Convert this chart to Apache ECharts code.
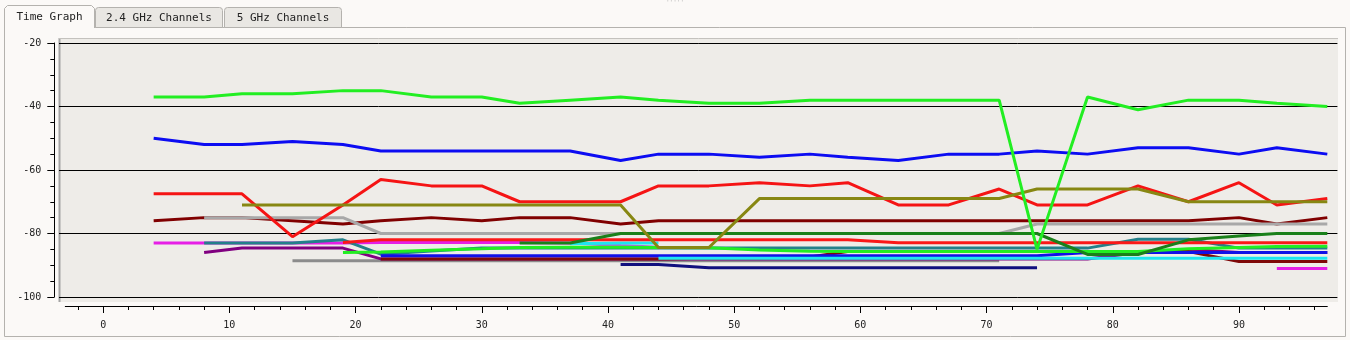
<!DOCTYPE html>
<html><head><meta charset="utf-8">
<script src="https://cdn.jsdelivr.net/npm/echarts@6/dist/echarts.min.js"></script>
<style>html,body{margin:0;padding:0;background:#fbf9f7;}#c{width:1350px;height:340px;}</style>
</head><body><div id="c"></div>
<script>
const N = null;
const times = [4, 8, 11, 15, 19, 22, 26, 30, 33, 37, 41, 44, 48, 52, 56, 59, 63, 67, 71, 74, 78, 82, 86, 90, 93, 97];
const xTickValues = [0, 10, 20, 30, 40, 50, 60, 70, 80, 90];
const xMinorValues = [-2,2,4,6,8,12,14,16,18,22,24,26,28,32,34,36,38,42,44,46,48,52,54,56,58,62,64,66,68,72,74,76,78,82,84,86,88,92,94,96];
const tabLabels = ['Time Graph', '2.4 GHz Channels', '5 GHz Channels'];

const lime = [-37,-37,-36,-36,-35,-35,-37,-37,-39,-38,-37,-38,-39,-39,-38,-38,-38,-38,-38,-85,-37,-41,-38,-38,-39,-40];
const blue = [-50,-52,-52,-51,-52,-54,-54,-54,-54,-54,-57,-55,-55,-56,-55,-56,-57,-55,-55,-54,-55,-53,-53,-55,-53,-55];
const red = [-67.5,-67.5,-67.5,-81,-71,-63,-65,-65,-70,-70,-70,-65,-65,-64,-65,-64,-71,-71,-66,-71,-71,-65,-70,-64,-71,-69];
const olive = [N,N,-71,-71,-71,-71,-71,-71,-71,-71,-71,-84.4,-84.4,-69,-69,-69,-69,-69,-69,-66,-66,-66,-70,-70,-70,-70];
const maroon = [-76,-75,-75,-76,-77,-76,-75,-76,-75,-75,-77,-76,-76,-76,-76,-76,-76,-76,-76,-76,-76,-76,-76,-75,-77,-75];
const silver = [N,-75,-75,-75,-75,-80,-80,-80,-80,-80,-80,-80,-80,-80,-80,-80,-80,-80,-80,-77,-77,-77,-77,-77,-77,-77];
const darkGreen = [N,N,N,N,N,N,N,N,-83,-83,-80,-80,-80,-80,-80,-80,-80,-80,-80,-80,-86.6,-86.6,-82,-80.8,-80,-80];
const red2 = [N,N,N,N,-82.8,-82,-82,-82,-82,-82,-82,-82,-82,-82,-82,-82,-82.9,-82.9,-82.9,-82.9,-82.9,-82.9,-82.9,-82.9,-82.9,-82.9];
const magenta = [-83,-83,-83,-83,-83,-82.8,-82.8,-82.8,-82.8,-83,N,N,N,N,N,N,N,N,N,N,N,N,N,N,-91,-91];
const teal = [N,-83,-83,-83,-82,-86.5,-85.5,-84.6,-84.6,-84.6,-84.6,-84.6,-84.6,-84.6,-84.6,-84.6,-84.6,-84.6,-84.6,-84.6,-84.6,-81.8,-81.8,-84.6,-84.6,-84.6];
const purple = [N,-86,-84.6,-84.6,-84.6,-88,-88,-88,-88,-88,-88,-88,-88,-88,-88,-88,-88,-88,-88,-88,-88,-86,-85,-86,-86,-86];
const grey = [N,N,N,-88.6,-88.6,-88.6,-88.6,-88.6,-88.6,-88.6,-88.6,-88.6,-88.6,-88.6,-88.6,-88.6,-88.6,-88.6,-88.6,N,N,N,N,N,N,N];
const lime2 = [N,N,N,N,-86,-85.8,-85.3,-84.8,-84.4,-84.3,-84.3,-84.4,-84.5,-85.2,-85.6,-85.7,-85.7,-85.7,-85.7,-85.7,-85.7,-85.7,-84.8,-84.4,-84.1,-84];
const violet = [N,N,N,N,N,N,N,N,N,-83,-83.8,-84.3,N,N,N,N,N,N,N,N,N,N,N,N,N,N];
const cyan1 = [N,N,N,N,N,N,N,N,N,-83.2,-83,-83,N,N,N,N,N,N,N,N,N,N,N,N,N,N];
const navy = [N,N,N,N,N,N,N,N,N,N,-89.8,-89.8,-90.8,-90.8,-90.8,-90.8,-90.8,-90.8,-90.8,-90.8,N,N,N,N,N,N];
const maroon2 = [N,N,N,N,N,-88,-88,-88,-88,-88,-88,-88,-87.8,-87.8,-87.4,-85.7,-85.7,-85.7,-85.7,-85.7,-85.7,-85.7,-85.7,-88.8,-88.8,-88.8];
const blue2 = [N,N,N,N,N,-87,-87,-87,-87,-87,-87,-87,-87,-87,-87,-87,-87,-87,-87,-87,-86,-86,-86,-86,-86,-86];
const cyan2 = [N,N,N,N,N,N,N,N,N,N,N,-87.8,-87.8,-87.8,-87.8,-87.8,-87.8,-87.8,-87.8,-87.8,-87.8,-87.8,-87.8,-87.8,-87.8,-87.8];

const seriesDefs = [
  ['grey', '#8c8c8c', grey],
  ['purple', '#800080', purple],
  ['magenta', '#e61ee6', magenta],
  ['teal', '#23808a', teal],
  ['violet', '#b464e6', violet],
  ['cyan1', '#1ee6f0', cyan1],
  ['navy', '#10107e', navy],
  ['maroon2', '#7e0808', maroon2],
  ['blue2', '#1010e8', blue2],
  ['cyan2', '#1ee6f0', cyan2],
  ['lime2', '#22ee22', lime2],
  ['red2', '#fa1818', red2],
  ['maroon', '#800000', maroon],
  ['silver', '#a8a8a8', silver],
  ['darkGreen', '#1a801a', darkGreen],
  ['red', '#f51414', red],
  ['olive', '#878712', olive],
  ['blue', '#0c0cf2', blue],
  ['lime', '#22ee22', lime]
];

const FONT = 'DejaVu Sans Mono';
const chart = echarts.init(document.getElementById('c'));

const series = seriesDefs.map(([name, color, vals]) => ({
  type: 'line', name, xAxisIndex: 0, yAxisIndex: 0,
  data: times.map((t, i) => [t, vals[i]]),
  showSymbol: false, silent: true, connectNulls: false,
  lineStyle: { width: 3, color }, itemStyle: { color },
  animation: false
}));

const tabBorder = '#b4b2ae';
const graphic = [
  { type: 'rect', z: -5, shape: { x: 59, y: 38, width: 1279, height: 264 }, style: { fill: '#eeece8' } },
  { type: 'line', z: -4, shape: { x1: 59.5, y1: 38, x2: 59.5, y2: 302 }, style: { stroke: '#a4a4a4', lineWidth: 2 } },
  { type: 'line', z: -4, shape: { x1: 59, y1: 38.5, x2: 1338, y2: 38.5 }, style: { stroke: '#c4c2be', lineWidth: 1 } },
  { type: 'polyline', z: -4, shape: { points: [[94, 27.5], [1345.5, 27.5], [1345.5, 336.5], [4.5, 336.5], [4.5, 27]] }, style: { stroke: tabBorder, fill: null, lineWidth: 1 } },
  { type: 'rect', z: -4, shape: { x: 95.5, y: 7.5, width: 127, height: 20, r: [3, 3, 0, 0] }, style: { fill: '#e9e7e3', stroke: tabBorder, lineWidth: 1 } },
  { type: 'rect', z: -4, shape: { x: 224.5, y: 7.5, width: 117, height: 20, r: [3, 3, 0, 0] }, style: { fill: '#e9e7e3', stroke: tabBorder, lineWidth: 1 } },
  { type: 'polyline', z: -4, shape: { points: [[4.5, 28], [4.5, 8.5], [7.5, 5.5], [91.5, 5.5], [94.5, 8.5], [94.5, 28]] }, style: { stroke: tabBorder, fill: '#fbf9f7', lineWidth: 1 } },
  { type: 'text', z: 5, style: { text: tabLabels[0], x: 49.5, y: 17, align: 'center', verticalAlign: 'middle', font: '11px "' + FONT + '"', fill: '#222' } },
  { type: 'text', z: 5, style: { text: tabLabels[1], x: 159, y: 18, align: 'center', verticalAlign: 'middle', font: '11px "' + FONT + '"', fill: '#222' } },
  { type: 'text', z: 5, style: { text: tabLabels[2], x: 283, y: 18, align: 'center', verticalAlign: 'middle', font: '11px "' + FONT + '"', fill: '#222' } },
  { type: 'text', z: 5, style: { text: '·····', x: 675, y: 1, align: 'center', verticalAlign: 'middle', font: '6px "' + FONT + '"', fill: '#999' } }
];

const option = {
  backgroundColor: '#fbf9f7',
  animation: false,
  graphic: { elements: graphic },
  grid: [
    { left: 59, top: 43, width: 1278.4, height: 254 },
    { left: 65.3, top: 43, width: 1262, height: 254 }
  ],
  xAxis: [
    { gridIndex: 0, type: 'value', min: -3.5, max: 97.8, show: false },
    { gridIndex: 1, type: 'value', min: -3, max: 97, position: 'bottom', offset: 9,
      axisLine: { show: true, onZero: false, lineStyle: { color: '#000', width: 1 } },
      axisTick: { show: true, length: 7, customValues: xTickValues, lineStyle: { color: '#000' } },
      axisLabel: { show: true, customValues: xTickValues, margin: 14, fontFamily: FONT, fontSize: 10, color: '#222' },
      splitLine: { show: false } },
    { gridIndex: 1, type: 'value', min: -3, max: 97, position: 'bottom', offset: 9,
      axisLine: { show: false, onZero: false },
      axisTick: { show: true, length: 4, customValues: xMinorValues, lineStyle: { color: '#000' } },
      axisLabel: { show: false },
      splitLine: { show: false } }
  ],
  yAxis: [
    { gridIndex: 0, type: 'value', min: -100, max: -20, interval: 20,
      axisLine: { show: false }, axisTick: { show: false }, axisLabel: { show: false },
      splitLine: { show: true, lineStyle: { color: '#000', width: 1 } } },
    { gridIndex: 1, type: 'value', min: -100, max: -20, interval: 20, position: 'left', offset: 11,
      axisLine: { show: true, onZero: false, lineStyle: { color: '#000', width: 1 } },
      axisTick: { show: true, length: 7, lineStyle: { color: '#000' } },
      minorTick: { show: true, splitNumber: 4, length: 4, lineStyle: { color: '#000' } },
      axisLabel: { margin: 13, fontFamily: FONT, fontSize: 10, color: '#222' },
      splitLine: { show: false } }
  ],
  series
};
chart.setOption(option);
</script>
</body></html>
